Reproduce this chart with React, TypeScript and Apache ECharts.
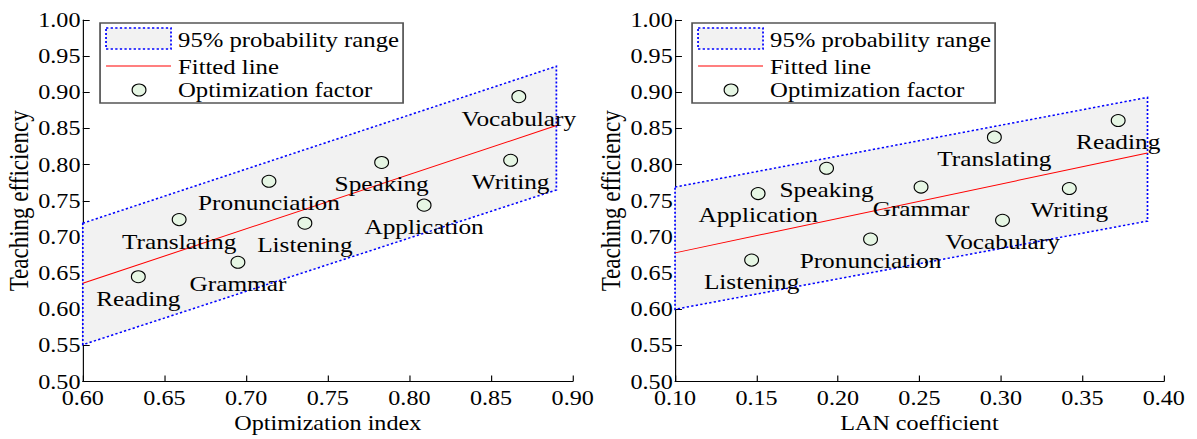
import React, { useEffect, useRef } from "react";
import * as echarts from "echarts";

// ---------- data ----------
const leftNames = ["Reading", "Translating", "Grammar", "Pronunciation", "Listening", "Speaking", "Application", "Writing", "Vocabulary"];
const leftX = [0.634, 0.659, 0.695, 0.714, 0.736, 0.783, 0.809, 0.862, 0.867];
const leftY = [0.645, 0.724, 0.665, 0.777, 0.719, 0.803, 0.744, 0.806, 0.894];
const leftFitX = [0.6, 0.89];
const leftFitY = [0.636, 0.854];
const leftBandUpper = [0.719, 0.936];
const leftBandLower = [0.551, 0.765];

const rightNames = ["Listening", "Application", "Speaking", "Pronunciation", "Grammar", "Translating", "Vocabulary", "Writing", "Reading"];
const rightX = [0.147, 0.151, 0.193, 0.22, 0.251, 0.296, 0.301, 0.342, 0.372];
const rightY = [0.668, 0.76, 0.795, 0.697, 0.769, 0.838, 0.723, 0.767, 0.861];
const rightFitX = [0.1, 0.39];
const rightFitY = [0.678, 0.816];
const rightBandUpper = [0.769, 0.893];
const rightBandLower = [0.6, 0.722];

const xTitles = ["Optimization index", "LAN coefficient"];
const yTitle = "Teaching efficiency";
const legendLabels = ["95% probability range", "Fitted line", "Optimization factor"];

// ---------- styling ----------
const SX = 1.15;
const FONT = "Liberation Serif";
const BAND_FILL = "#f2f2f2";
const BLUE = "#0000ff";
const RED = "#ff0000";
const MARK_FILL = "#e6f6e4";

function bandSeries(idx: number, bx: number[], up: number[], lo: number[]) {
  return {
    type: "custom",
    xAxisIndex: idx,
    yAxisIndex: idx,
    z: 1,
    silent: true,
    data: [[bx[0], lo[0]]],
    renderItem: (_p: any, api: any) => {
      const pts = [
        api.coord([bx[0], up[0]]),
        api.coord([bx[1], up[1]]),
        api.coord([bx[1], lo[1]]),
        api.coord([bx[0], lo[0]]),
      ];
      return {
        type: "polygon",
        shape: { points: pts },
        style: { fill: BAND_FILL, stroke: BLUE, lineWidth: 1.5, lineDash: [2, 2] },
      };
    },
  };
}

function fitSeries(idx: number, fx: number[], fy: number[]) {
  return {
    type: "line",
    xAxisIndex: idx,
    yAxisIndex: idx,
    z: 2,
    showSymbol: false,
    silent: true,
    data: fx.map((x, i) => [x, fy[i]]),
    lineStyle: { color: RED, width: 1 },
  };
}

function scatterSeries(idx: number, names: string[], xs: number[], ys: number[]) {
  return {
    type: "scatter",
    xAxisIndex: idx,
    yAxisIndex: idx,
    z: 3,
    symbol: "circle",
    symbolSize: 12,
    itemStyle: { color: MARK_FILL, borderColor: "#000", borderWidth: 1, opacity: 1 },
    label: {
      show: true,
      position: "bottom",
      distance: 4,
      formatter: (p: any) => p.name,
      fontFamily: FONT,
      fontSize: 22,
      color: "#000",
    },
    data: names.map((n, i) => ({ name: n, value: [xs[i], ys[i]] })),
  };
}

function xAxis(idx: number, min: number, max: number) {
  return {
    type: "value",
    gridIndex: idx,
    min,
    max,
    interval: 0.05,
    name: xTitles[idx],
    nameLocation: "middle",
    nameGap: 29,
    nameTextStyle: { fontFamily: FONT, fontSize: 21, color: "#000" },
    axisLine: { show: true, lineStyle: { color: "#000", width: 1 } },
    axisTick: { show: true, inside: true, length: 6, lineStyle: { color: "#000" } },
    axisLabel: {
      margin: 8,
      lineHeight: 16,
      fontFamily: FONT,
      fontSize: 21,
      color: "#000",
      formatter: (v: number) => v.toFixed(2),
    },
    splitLine: { show: false },
  };
}

function yAxis(idx: number) {
  return {
    type: "value",
    gridIndex: idx,
    min: 0.5,
    max: 1.0,
    interval: 0.05,
    name: yTitle,
    nameLocation: "middle",
    nameGap: 44,
    nameRotate: 90,
    nameTextStyle: { fontFamily: FONT, fontSize: 23, color: "#000" },
    axisLine: { show: true, lineStyle: { color: "#000", width: 1 } },
    axisTick: { show: true, inside: true, length: 6, lineStyle: { color: "#000" } },
    axisLabel: {
      margin: 2,
      lineHeight: 14,
      fontFamily: FONT,
      fontSize: 21,
      color: "#000",
      formatter: (v: number) => v.toFixed(2),
    },
    splitLine: { show: false },
  };
}

function legendGraphic(dx: number) {
  const bx = 87 + dx;
  const sx0 = 92.2 + dx;
  const sw = 56.5;
  const tx = 154.8 + dx;
  const ts = { fontFamily: FONT, fontSize: 21.5, fill: "#000", verticalAlign: "middle", align: "left" };
  return [
    { type: "rect", shape: { x: bx, y: 23, width: 263.5, height: 80 }, style: { fill: "#fff", stroke: "#555", lineWidth: 1.5 }, z: 10 },
    { type: "rect", shape: { x: sx0, y: 28, width: sw, height: 21 }, style: { fill: BAND_FILL, stroke: BLUE, lineWidth: 1.5, lineDash: [2, 2] }, z: 11 },
    { type: "text", x: tx, y: 39.5, style: { ...ts, text: legendLabels[0] }, z: 11 },
    { type: "line", shape: { x1: sx0, y1: 66, x2: sx0 + sw, y2: 66 }, style: { stroke: RED, lineWidth: 1 }, z: 11 },
    { type: "text", x: tx, y: 66.5, style: { ...ts, text: legendLabels[1] }, z: 11 },
    { type: "circle", shape: { cx: 120.9 + dx, cy: 90, r: 6 }, style: { fill: MARK_FILL, stroke: "#000", lineWidth: 1 }, z: 11 },
    { type: "text", x: tx, y: 90, style: { ...ts, text: legendLabels[2] }, z: 11 },
  ];
}

export default function App() {
  const ref = useRef<HTMLDivElement>(null);
  useEffect(() => {
    if (!ref.current) return;
    const chart = echarts.init(ref.current, undefined, { renderer: "svg" });
    chart.setOption({
      animation: false,
      backgroundColor: "#fff",
      textStyle: { fontFamily: FONT },
      grid: [
        { left: 72, top: 20, width: 426, height: 363 },
        { left: 587, top: 20, width: 425, height: 363 },
      ],
      xAxis: [xAxis(0, 0.6, 0.9), xAxis(1, 0.1, 0.4)],
      yAxis: [yAxis(0), yAxis(1)],
      series: [
        bandSeries(0, leftFitX, leftBandUpper, leftBandLower),
        fitSeries(0, leftFitX, leftFitY),
        scatterSeries(0, leftNames, leftX, leftY),
        bandSeries(1, rightFitX, rightBandUpper, rightBandLower),
        fitSeries(1, rightFitX, rightFitY),
        scatterSeries(1, rightNames, rightX, rightY),
      ],
      graphic: [...legendGraphic(0), ...legendGraphic(514.8)],
    });
    return () => chart.dispose();
  }, []);
  return (
    <div style={{ position: "fixed", left: 0, top: 0, width: 1197, height: 439, overflow: "hidden", background: "#fff" }}>
      <div
        ref={ref}
        style={{ width: Math.round(1197 / SX), height: 439, transform: `scaleX(${SX})`, transformOrigin: "0 0" }}
      />
    </div>
  );
}
